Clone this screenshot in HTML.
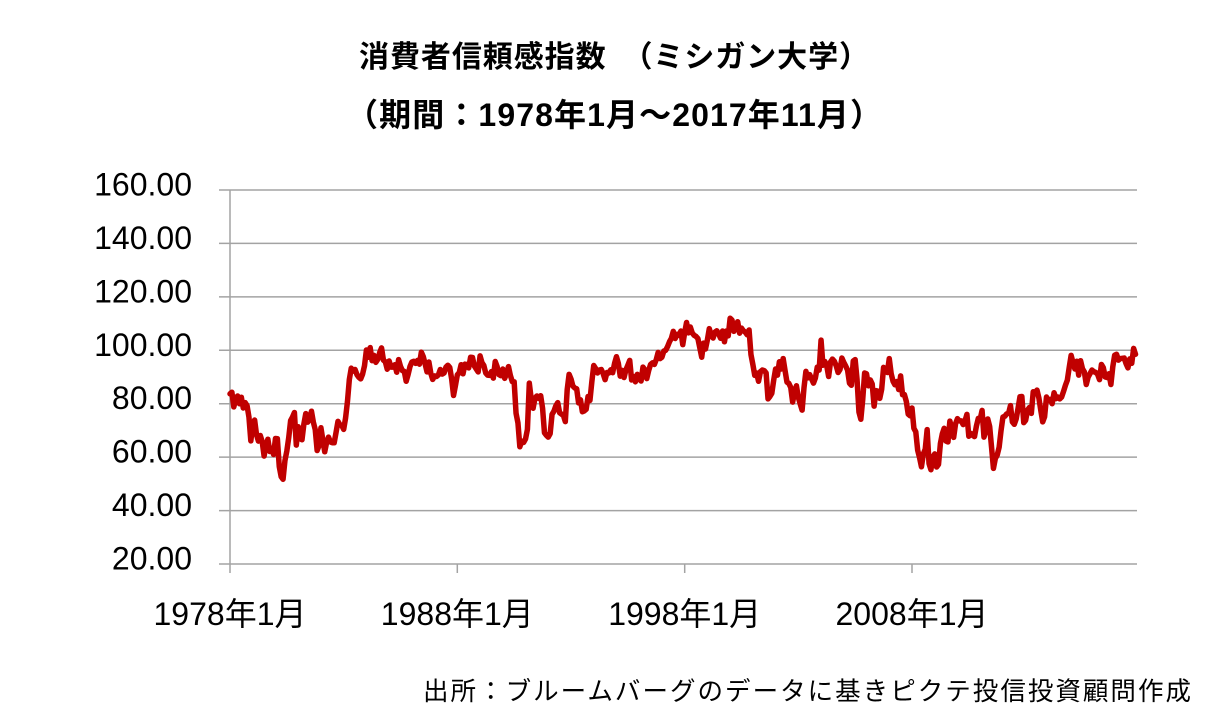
<!DOCTYPE html>
<html>
<head>
<meta charset="utf-8">
<style>
  html, body { margin: 0; padding: 0; background: #fff; }
  body { width: 1231px; height: 728px; overflow: hidden; }
  svg { display: block; }
  .t { font-family: "Liberation Sans", "Noto Sans CJK JP", sans-serif; fill: #000; }
</style>
</head>
<body>
<svg width="1231" height="728" viewBox="0 0 1231 728" xmlns="http://www.w3.org/2000/svg">
  <rect width="1231" height="728" fill="#fff"/>

  <!-- Title -->
  <text class="t" x="359" y="67" font-size="30" font-weight="bold" textLength="510" lengthAdjust="spacing">消費者信頼感指数　（ミシガン大学）</text>
  <text class="t" x="346" y="126" font-size="32" font-weight="bold" textLength="536" lengthAdjust="spacing">（期間：1978年1月～2017年11月）</text>

  <!-- Gridlines -->
  <g stroke="#a3a3a3" stroke-width="1.5" fill="none">
    <line x1="219" y1="190.0" x2="1137" y2="190.0"/>
    <line x1="219" y1="243.4" x2="1137" y2="243.4"/>
    <line x1="219" y1="296.9" x2="1137" y2="296.9"/>
    <line x1="219" y1="350.3" x2="1137" y2="350.3"/>
    <line x1="219" y1="403.7" x2="1137" y2="403.7"/>
    <line x1="219" y1="457.1" x2="1137" y2="457.1"/>
    <line x1="219" y1="510.6" x2="1137" y2="510.6"/>
    <line x1="219" y1="564.0" x2="1137" y2="564.0"/>
    <line x1="230" y1="190" x2="230" y2="573"/>
    <line x1="457.3" y1="564" x2="457.3" y2="573"/>
    <line x1="684.7" y1="564" x2="684.7" y2="573"/>
    <line x1="912" y1="564" x2="912" y2="573"/>
  </g>

  <!-- Y labels -->
  <g class="t" font-size="32" text-anchor="end">
    <text x="192" y="195.5">160.00</text>
    <text x="192" y="248.9">140.00</text>
    <text x="192" y="302.4">120.00</text>
    <text x="192" y="355.8">100.00</text>
    <text x="192" y="409.2">80.00</text>
    <text x="192" y="462.6">60.00</text>
    <text x="192" y="516.1">40.00</text>
    <text x="192" y="569.5">20.00</text>
  </g>

  <!-- X labels -->
  <g class="t" font-size="32" text-anchor="middle">
    <text x="230" y="625">1978年1月</text>
    <text x="457.3" y="625">1988年1月</text>
    <text x="684.7" y="625">1998年1月</text>
    <text x="912" y="625">2008年1月</text>
  </g>

  <!-- Data series -->
  <g transform="translate(230,617.43) scale(1.8944,-2.6714)">
    <polyline fill="none" stroke="#c00000" stroke-width="5.5" stroke-linejoin="round" stroke-linecap="round" vector-effect="non-scaling-stroke"
      points="0,83.7 1,84.3 2,78.8 3,81.6 4,82.9 5,80.0 6,82.4 7,78.4 8,80.4 9,79.3 10,75.0 11,66.1
12,72.1 13,73.9 14,68.4 15,66.0 16,68.1 17,65.8 18,60.4 19,64.5 20,66.7 21,62.1 22,63.3 23,61.0
24,67.0 25,66.9 26,56.5 27,52.7 28,51.7 29,58.7 30,62.3 31,67.3 32,73.7 33,75.0 34,76.7 35,64.5
36,71.4 37,66.9 38,66.5 39,72.4 40,76.3 41,73.1 42,74.1 43,77.2 44,73.1 45,70.3 46,62.5 47,64.3
48,71.0 49,66.5 50,62.0 51,65.5 52,67.5 53,65.7 54,65.4 55,65.4 56,69.3 57,73.4 58,72.1 59,71.9
60,70.4 61,74.6 62,80.8 63,89.1 64,93.3 65,92.2 66,92.8 67,90.9 68,89.9 69,89.3 70,91.1 71,94.2
72,100.1 73,97.4 74,101.0 75,96.1 76,98.1 77,95.5 78,96.6 79,99.1 80,100.9 81,96.3 82,95.7 83,92.9
84,96.0 85,93.7 86,93.7 87,94.6 88,91.8 89,96.5 90,94.0 91,92.4 92,92.1 93,88.4 94,90.9 95,93.9
96,95.6 97,95.9 98,95.1 99,96.2 100,94.8 101,99.3 102,97.7 103,94.9 104,91.9 105,95.6 106,91.4 107,89.1
108,90.4 109,90.2 110,90.8 111,92.8 112,91.1 113,91.5 114,93.7 115,94.4 116,93.6 117,89.3 118,83.1 119,86.8
120,90.8 121,91.6 122,94.6 123,91.2 124,94.8 125,94.7 126,93.4 127,97.4 128,97.3 129,94.1 130,93.0 131,91.9
132,97.9 133,95.4 134,94.3 135,91.5 136,90.7 137,90.6 138,92.0 139,89.6 140,95.8 141,93.9 142,90.9 143,90.5
144,93.0 145,89.5 146,91.3 147,93.9 148,90.6 149,88.3 150,88.2 151,76.4 152,72.8 153,63.9 154,66.0 155,65.5
156,66.8 157,70.4 158,87.7 159,81.8 160,78.3 161,82.1 162,82.9 163,82.0 164,83.0 165,78.3 166,69.1 167,68.2
168,67.5 169,68.8 170,76.0 171,77.2 172,79.2 173,80.4 174,76.6 175,76.1 176,75.6 177,73.3 178,85.3 179,91.0
180,89.3 181,86.6 182,85.9 183,85.6 184,80.3 185,81.5 186,77.0 187,77.3 188,77.9 189,82.7 190,81.2 191,88.2
192,94.3 193,93.2 194,91.5 195,92.6 196,92.8 197,91.2 198,89.0 199,91.7 200,91.5 201,92.7 202,91.6 203,95.1
204,97.6 205,95.1 206,90.3 207,92.5 208,89.8 209,92.7 210,94.4 211,96.2 212,88.9 213,90.2 214,88.2 215,91.0
216,89.3 217,88.5 218,93.7 219,92.7 220,89.4 221,92.4 222,94.7 223,95.3 224,94.7 225,96.5 226,99.2 227,96.9
228,97.4 229,99.7 230,100.0 231,101.4 232,103.2 233,104.5 234,107.1 235,104.4 236,106.0 237,105.6 238,107.2 239,102.1
240,106.6 241,110.4 242,106.5 243,108.7 244,106.5 245,105.6 246,105.2 247,104.4 248,100.9 249,97.4 250,102.7 251,100.5
252,103.9 253,108.1 254,105.7 255,104.6 256,106.8 257,107.3 258,106.0 259,104.5 260,107.2 261,103.2 262,107.2 263,105.4
264,112.0 265,111.3 266,107.1 267,109.2 268,110.7 269,106.4 270,108.3 271,107.3 272,106.8 273,105.8 274,107.6 275,98.4
276,94.7 277,90.6 278,91.5 279,88.4 280,92.0 281,92.6 282,92.4 283,91.5 284,81.8 285,82.7 286,83.9 287,88.8
288,93.0 289,90.7 290,95.7 291,93.0 292,96.9 293,92.4 294,88.1 295,87.6 296,86.1 297,80.6 298,84.2 299,86.7
300,82.4 301,79.9 302,77.6 303,86.0 304,92.1 305,89.7 306,90.9 307,89.3 308,87.7 309,89.6 310,93.7 311,92.6
312,103.8 313,94.4 314,95.8 315,94.2 316,90.2 317,95.6 318,96.7 319,95.9 320,94.2 321,91.7 322,92.8 323,97.1
324,95.5 325,94.1 326,92.6 327,87.7 328,86.9 329,96.0 330,96.5 331,89.1 332,76.9 333,74.2 334,81.6 335,91.5
336,91.2 337,86.7 338,88.9 339,87.4 340,79.1 341,84.9 342,84.7 343,82.0 344,85.4 345,93.6 346,92.1 347,91.7
348,96.9 349,91.3 350,88.4 351,87.1 352,88.3 353,85.3 354,90.4 355,83.4 356,83.4 357,80.9 358,76.1 359,75.5
360,78.4 361,70.8 362,69.5 363,62.6 364,59.8 365,56.4 366,61.2 367,63.0 368,70.3 369,57.6 370,55.3 371,60.1
372,61.2 373,56.3 374,57.3 375,65.1 376,68.7 377,70.8 378,66.0 379,65.7 380,73.5 381,70.6 382,67.4 383,72.5
384,74.4 385,73.6 386,73.6 387,72.2 388,73.6 389,76.0 390,67.8 391,68.9 392,68.2 393,67.7 394,71.6 395,74.5
396,74.2 397,77.5 398,67.5 399,69.8 400,74.3 401,71.5 402,63.7 403,55.8 404,59.5 405,60.8 406,63.7 407,69.9
408,75.0 409,75.3 410,76.2 411,76.4 412,79.3 413,73.2 414,72.3 415,74.3 416,78.3 417,82.6 418,82.7 419,72.9
420,73.8 421,77.6 422,78.6 423,76.4 424,84.5 425,84.1 426,85.1 427,82.1 428,77.5 429,73.2 430,75.1 431,82.5
432,81.2 433,81.6 434,80.0 435,84.1 436,81.9 437,82.5 438,81.8 439,82.5 440,84.6 441,86.9 442,88.8 443,93.6
444,98.1 445,95.4 446,93.0 447,95.9 448,90.7 449,96.1 450,93.1 451,91.9 452,87.2 453,90.0 454,91.3 455,92.6
456,92.0 457,91.7 458,91.0 459,89.0 460,94.7 461,93.5 462,90.0 463,89.8 464,91.2 465,87.2 466,93.8 467,98.2
468,98.5 469,96.3 470,96.9 471,97.0 472,97.1 473,95.0 474,93.4 475,96.8 476,95.1 477,100.7 478,98.5"/>
  </g>

  <!-- Source -->
  <text class="t" x="423" y="700" font-size="25.5" textLength="768" lengthAdjust="spacing">出所：ブルームバーグのデータに基きピクテ投信投資顧問作成</text>
</svg>
</body>
</html>
